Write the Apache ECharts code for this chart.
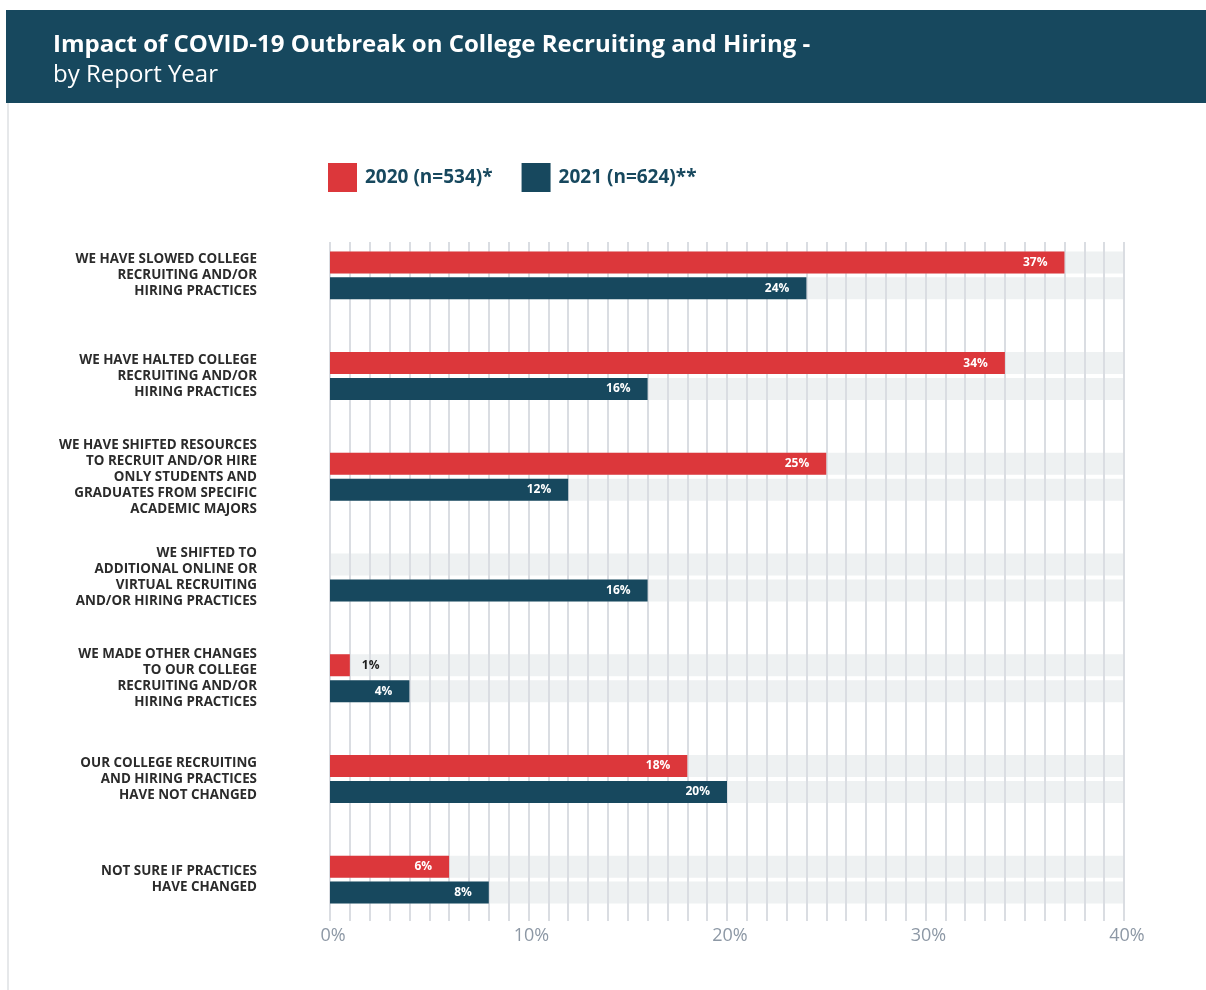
<!DOCTYPE html>
<html>
<head>
<meta charset="utf-8">
<script src="https://cdn.jsdelivr.net/npm/echarts@6/dist/echarts.min.js"></script>
<style>
  html, body { margin: 0; padding: 0; background: #ffffff; }
  #chart { width: 1206px; height: 990px; }
</style>
</head>
<body>
<div id="chart"></div>
<script>
// ---- Data ----
const categories = [
  "WE HAVE SLOWED COLLEGE\nRECRUITING AND/OR\nHIRING PRACTICES",
  "WE HAVE HALTED COLLEGE\nRECRUITING AND/OR\nHIRING PRACTICES",
  "WE HAVE SHIFTED RESOURCES\nTO RECRUIT AND/OR HIRE\nONLY STUDENTS AND\nGRADUATES FROM SPECIFIC\nACADEMIC MAJORS",
  "WE SHIFTED TO\nADDITIONAL ONLINE OR\nVIRTUAL RECRUITING\nAND/OR HIRING PRACTICES",
  "WE MADE OTHER CHANGES\nTO OUR COLLEGE\nRECRUITING AND/OR\nHIRING PRACTICES",
  "OUR COLLEGE RECRUITING\nAND HIRING PRACTICES\nHAVE NOT CHANGED",
  "NOT SURE IF PRACTICES\nHAVE CHANGED"
];
const seriesNames = ["2020 (n=534)*", "2021 (n=624)**"];
const values2020 = [37, 34, 25, null, 1, 18, 6];
const values2021 = [24, 16, 12, 16, 4, 20, 8];
const axisMin = 0;
const axisMax = 40;
const axisStep = 10;
const titleText = "Impact of COVID-19 Outbreak on College Recruiting and Hiring -";
const subtitleText = "by Report Year";

// ---- Styles ----
const RED = "#dc373b";
const NAVY = "#17485e";
const GRID_LINE = "#dadde2";
const BG_GREY = "#eef1f2";
const FONT = "'Open Sans', 'Noto Sans', sans-serif";

function buildData(vals) {
  return vals.map(v => {
    if (v === null) return null;
    const small = v < 3;
    return {
      value: v,
      label: small
        ? { position: "right", distance: 12, color: "#1e1e1e" }
        : { position: "insideRight", distance: 17, color: "#ffffff" }
    };
  });
}

const chart = echarts.init(document.getElementById("chart"), null, { renderer: "canvas" });

const GRID_LEFT = 330, GRID_RIGHT = 82;

const option = {
  animation: false,
  backgroundColor: "#ffffff",
  textStyle: { fontFamily: FONT },
  graphic: [
    { type: "rect", z: -10, shape: { x: 6, y: 10, width: 1200, height: 93 }, style: { fill: NAVY } },
    { type: "rect", z: -10, shape: { x: 7, y: 103, width: 2, height: 887 }, style: { fill: "#e6e8ea" } },
    { type: "text", left: 53, top: 33, style: { text: titleText, fill: "#ffffff", font: "bold 24px " + FONT } },
    { type: "text", left: 53, top: 63, style: { text: subtitleText, fill: "#ffffff", font: "24px " + FONT } }
  ],
  legend: {
    data: seriesNames,
    left: 328,
    top: 163,
    padding: 0,
    itemWidth: 29,
    itemHeight: 29,
    itemGap: 29,
    icon: "rect",
    selectedMode: false,
    textStyle: { fontFamily: FONT, fontWeight: "bold", fontSize: 19, color: NAVY, padding: [6, 0, 0, 3] }
  },
  grid: [
    { left: GRID_LEFT, right: GRID_RIGHT, top: 242, height: 679 },
    { left: GRID_LEFT, right: GRID_RIGHT, top: 225, height: 705 }
  ],
  xAxis: [
    {
      gridIndex: 0, type: "value", min: axisMin, max: axisMax, interval: axisStep, z: 1,
      axisLine: { show: false }, axisTick: { show: false },
      splitLine: { show: true, lineStyle: { color: GRID_LINE, width: 2 } },
      minorTick: { show: false, splitNumber: 10 },
      minorSplitLine: { show: true, lineStyle: { color: GRID_LINE, width: 2 } },
      axisLabel: { formatter: "{value}%", color: "#8d98a5", fontSize: 18, fontFamily: FONT, margin: 6, padding: [0, 0, 0, 6] }
    },
    {
      gridIndex: 1, type: "value", min: axisMin, max: axisMax, show: false,
      splitLine: { show: false }
    }
  ],
  yAxis: [
    {
      gridIndex: 1, type: "category", data: categories, inverse: true,
      axisLine: { show: false }, axisTick: { show: false },
      axisLabel: { margin: 73, color: "#2b2b2b", fontWeight: "bold", fontSize: 13.4, lineHeight: 16, fontFamily: FONT, align: "right" }
    },
    { gridIndex: 1, type: "category", data: categories, inverse: true, show: false },
    { gridIndex: 0, type: "value", show: false }
  ],
  series: [
    {
      name: "bg2020", type: "bar", xAxisIndex: 1, yAxisIndex: 1, z: 0, silent: true,
      barWidth: 22, barGap: "18%",
      itemStyle: { color: BG_GREY },
      data: categories.map(() => axisMax)
    },
    {
      name: "bg2021", type: "bar", xAxisIndex: 1, yAxisIndex: 1, z: 0, silent: true,
      barWidth: 22, barGap: "18%",
      itemStyle: { color: BG_GREY },
      data: categories.map(() => axisMax)
    },
    {
      name: seriesNames[0], type: "bar", xAxisIndex: 1, yAxisIndex: 0, z: 3,
      barWidth: 22, barGap: "18%",
      itemStyle: { color: RED },
      label: { show: true, formatter: "{c}%", fontWeight: "bold", fontSize: 12, fontFamily: FONT },
      data: buildData(values2020)
    },
    {
      name: seriesNames[1], type: "bar", xAxisIndex: 1, yAxisIndex: 0, z: 3,
      barWidth: 22, barGap: "18%",
      itemStyle: { color: NAVY },
      label: { show: true, formatter: "{c}%", fontWeight: "bold", fontSize: 12, fontFamily: FONT },
      data: buildData(values2021)
    }
  ]
};

chart.setOption(option);
</script>
</body>
</html>
